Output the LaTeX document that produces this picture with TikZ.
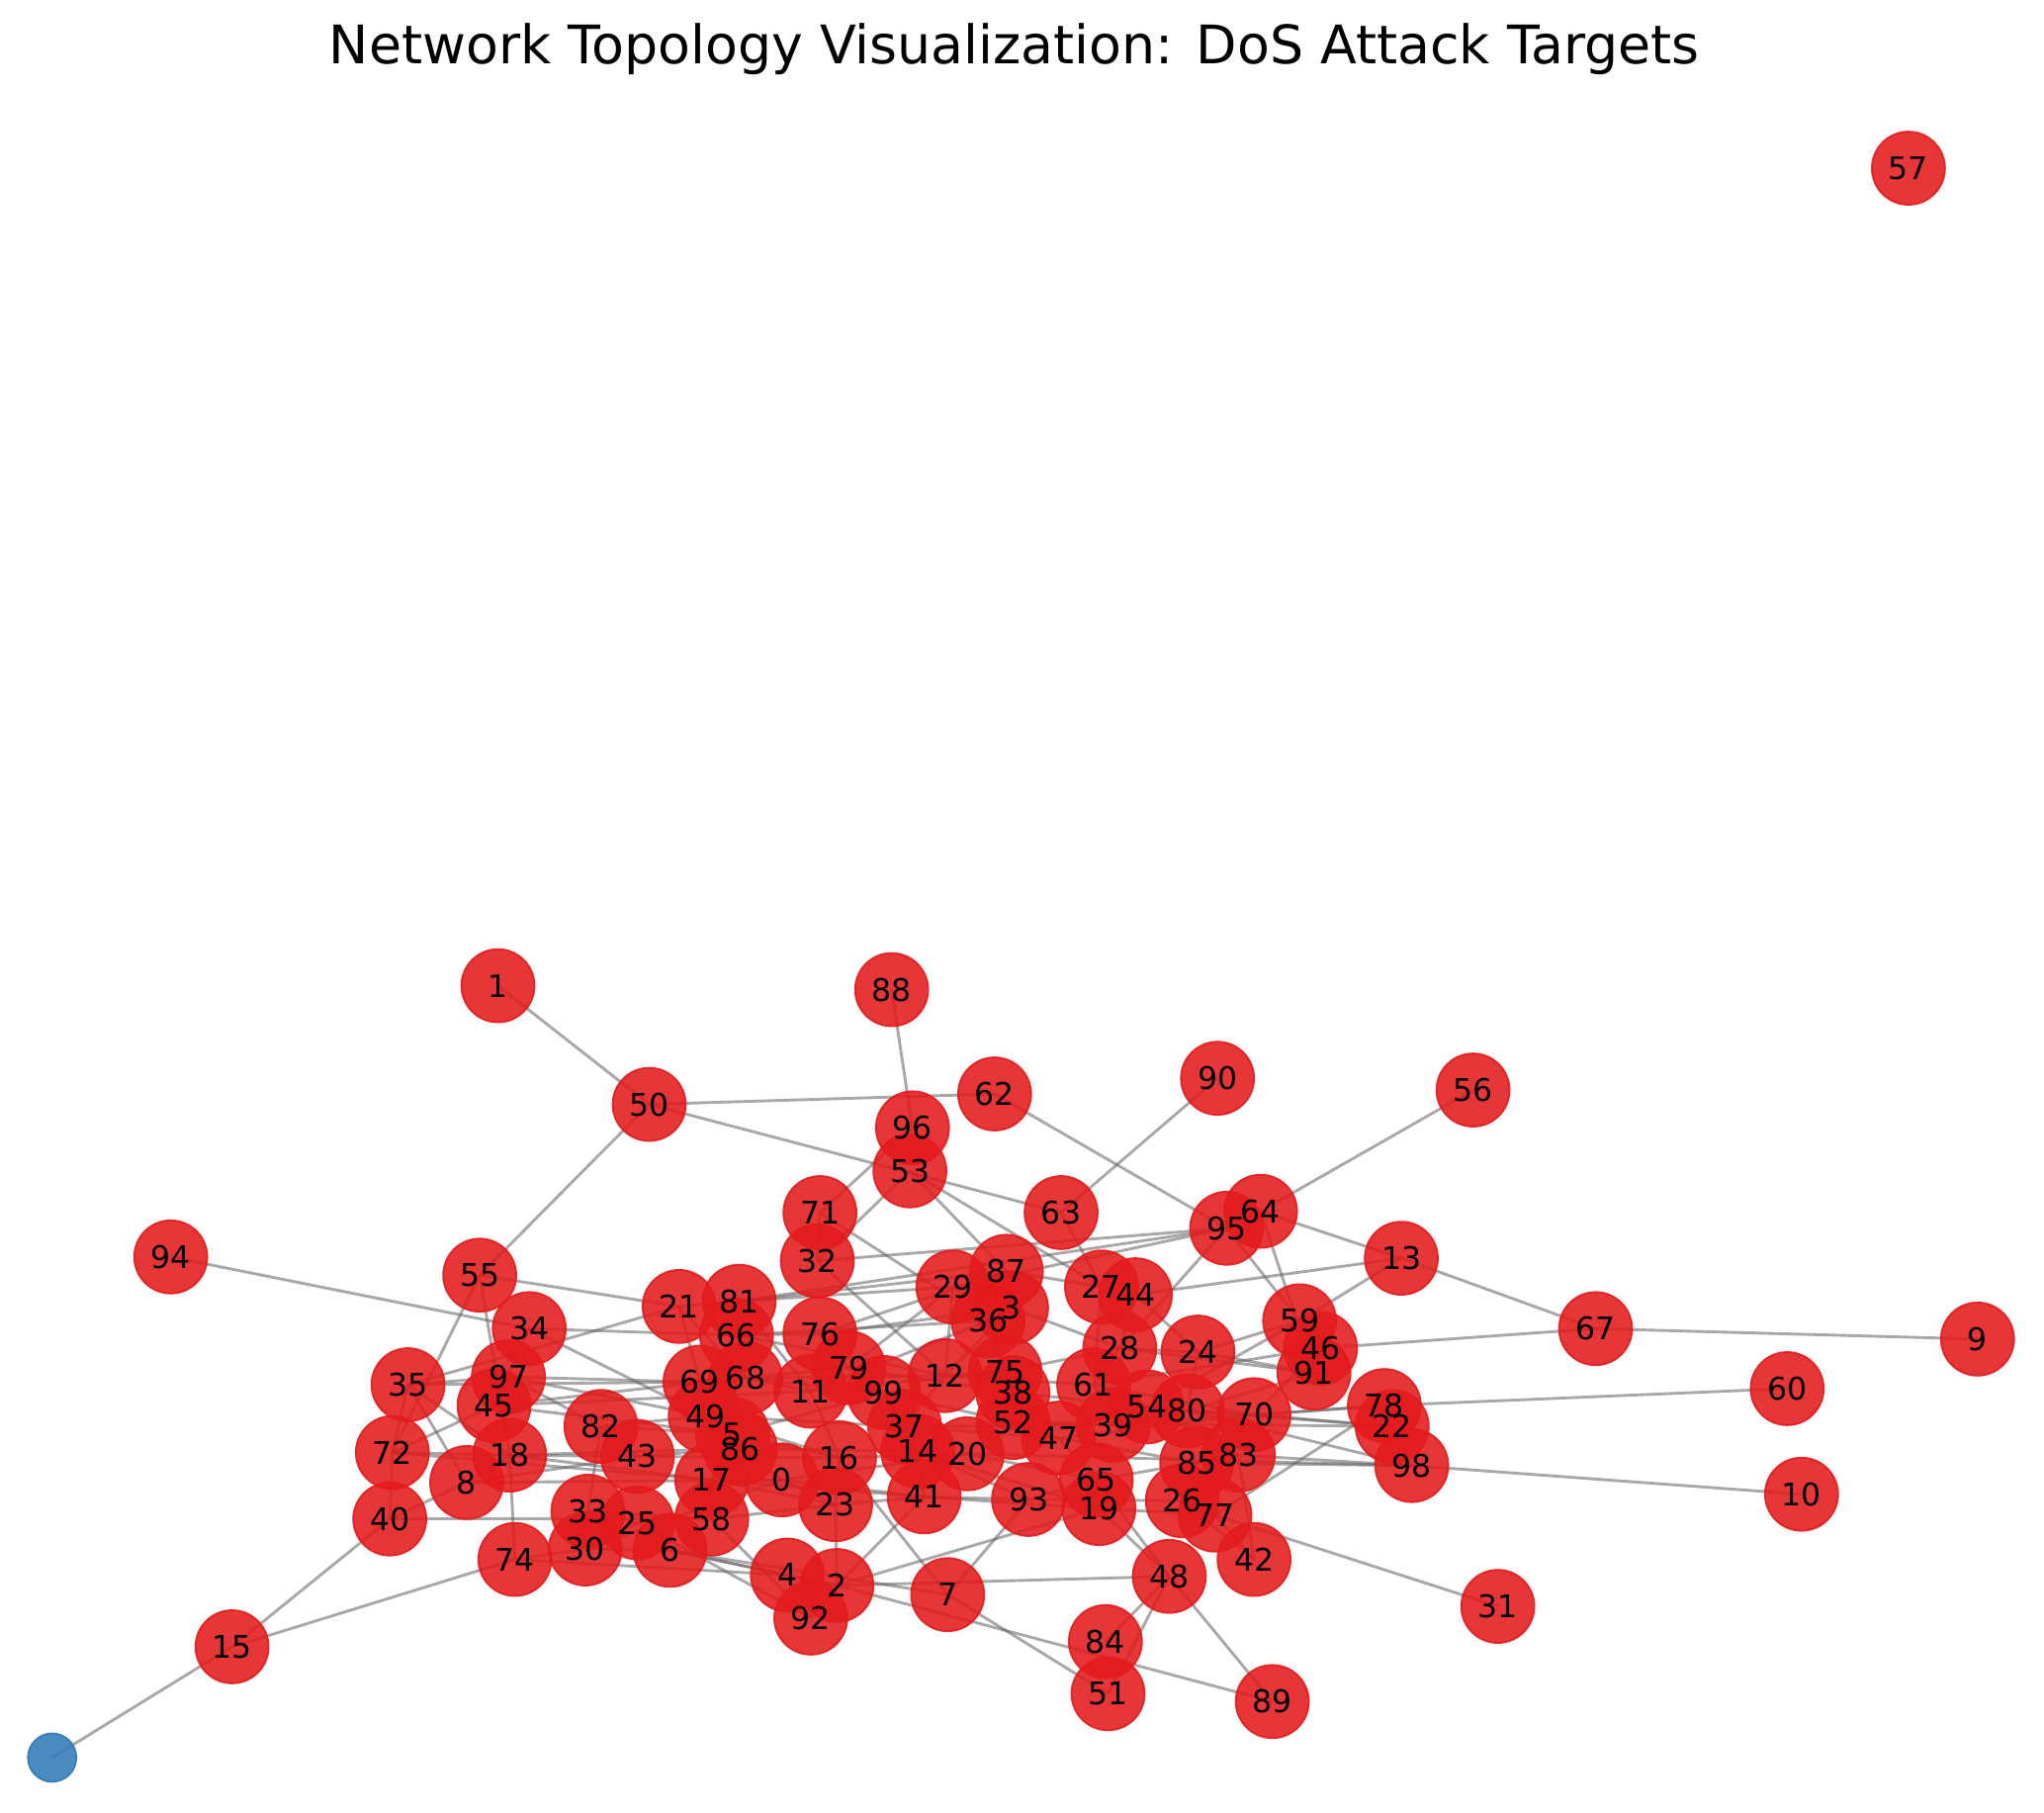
\documentclass[tikz,border=0pt]{standalone}
\usepackage{fontspec}
\setmainfont{DejaVu Sans}
\definecolor{nred}{RGB}{228,26,28}
\definecolor{nblue}{RGB}{55,126,184}
\pgfdeclarelayer{background}
\pgfdeclarelayer{foreground}
\pgfsetlayers{background,main,foreground}
\tikzset{
  rnode/.style={circle,fill=nred,draw=nred,fill opacity=0.88,draw opacity=0.9,line width=0.4pt,minimum size=0.56cm,inner sep=0pt},
  nlabel/.style={inner sep=0pt,font=\fontsize{6.8}{7}\selectfont},
  bnode/.style={circle,fill=nblue,draw=nblue,fill opacity=0.9,line width=0.4pt,minimum size=0.37cm,inner sep=0pt},
  link/.style={draw=black!62,draw opacity=0.55,line width=0.62pt},
  titlestyle/.style={font=\fontsize{11.6}{13}\selectfont,inner sep=0pt}
}
\begin{document}
\begin{tikzpicture}[x=0.01cm,y=-0.01cm]
\useasboundingbox (0,0) rectangle (1568,1390);
\node[titlestyle] (title) at (778,38) {Network Topology Visualization: DoS Attack Targets};
\node[bnode] (nb) at (40,1348) {};
\foreach \n/\x/\y in {57/1464/129,1/382/756,88/684/759,90/934/827,56/1130/836,62/763/839,50/498/847,
 96/700/865,53/698/898,63/814/930,71/629/930,64/967/929,95/941/942,94/131/964,13/1075/965,32/627/967,
 55/368/978,87/772/975,29/731/987,27/845/987,44/871/993,21/521/1002,81/567/998,3/776/1003,36/758/1013,
 59/997/1013,67/1224/1019,9/1517/1027,34/406/1019,66/565/1024,76/629/1023,28/859/1034,46/1013/1034,
 24/919/1037,91/1008/1053,12/725/1055,75/771/1052,79/651/1049,35/313/1062,97/390/1056,69/537/1060,
 68/572/1057,11/622/1067,99/678/1068,61/839/1062,60/1371/1065,38/777/1068,54/880/1079,80/911/1082,
 70/962/1085,78/1062/1078,45/379/1078,49/541/1086,5/562/1100,37/694/1094,52/777/1091,39/854/1093,
 22/1068/1094,47/812/1103,82/461/1094,72/301/1114,18/391/1116,43/489/1117,86/568/1111,16/644/1118,
 14/704/1113,20/742/1115,85/918/1122,83/950/1116,98/1083/1124,8/358/1137,17/546/1135,0/600/1135,
 65/841/1135,10/1382/1146,40/299/1165,33/451/1159,23/641/1154,41/709/1148,93/789/1150,19/843/1157,
 26/907/1151,77/932/1162,25/489/1168,58/546/1165,30/449/1188,6/514/1189,74/395/1196,42/962/1196,
 4/604/1208,2/642/1216,48/897/1209,7/727/1223,31/1149/1232,92/622/1241,84/848/1259,15/178/1263,
 51/850/1299,89/976/1305}
{
  \node[rnode] (n\n) at (\x,\y) {};
  \begin{pgfonlayer}{foreground}
    \node[nlabel] (t\n) at (n\n.center) {\n};
  \end{pgfonlayer}
}
\begin{pgfonlayer}{background}
\draw[link] (nb.center) -- (n15.center);
\foreach \a/\b in {15/40,15/74,1/50,50/55,50/62,50/63,88/96,62/95,90/63,56/64,96/71,53/32,53/87,53/27,
 94/34,64/13,13/67,67/9,67/46,13/59,13/44,60/78,10/98,31/77,51/7,51/48,84/48,2/89,89/48,2/48,7/93,2/19,
 16/7,78/77,42/77,55/21,55/72,55/18,35/21,35/97,35/69,34/66,34/49,35/8,35/18,72/45,72/40,40/58,
 71/36,32/12,81/29,81/87,66/36,76/87,76/3,11/36,79/29,12/3,95/28,95/81,95/32,95/29,95/59,64/91,59/24,
 28/24,59/54,46/70,91/80,70/78,70/22,80/22,85/98,83/98,80/98,24/91,27/61,44/24,63/27,87/27,3/28,36/75,
 29/12,97/69,45/69,97/49,45/5,45/11,18/43,18/86,18/17,72/18,72/17,8/43,8/0,40/8,33/82,33/58,30/6,30/0,
 74/30,74/18,74/4,6/4,6/2,25/92,6/7,58/92,58/23,82/5,82/49,43/86,43/16,34/45,97/82,21/69,21/68,81/11,
 66/76,69/79,68/99,49/37,5/16,86/14,17/41,0/41,0/20,17/23,86/0,49/16,5/99,68/12,66/12,11/75,79/38,
 99/52,37/47,14/93,20/65,16/20,23/41,41/93,41/19,14/19,37/39,12/61,75/28,38/54,52/39,47/85,93/26,
 65/83,19/77,65/48,39/80,61/70,54/83,47/70,20/98,52/22,39/78,28/91,61/46,26/42,85/26,83/42,19/48,
 4/2,4/92,2/92,23/2,41/2,5/17,17/58,25/33,30/25,86/17,16/23,14/41,37/14,99/37,11/16,79/99,76/79,
 12/75,75/38,38/52,52/47,47/65,65/19,61/39,39/54,54/80,80/70,85/83,26/77,93/65,37/12,36/3,87/3,
 29/36,27/44,44/28,28/61,24/80,59/46,46/91,78/22,22/98,32/71,81/66,21/81,66/68,68/69,69/49,49/5,
 5/86,11/68,0/17,0/23,43/82,18/8,72/35}
  \draw[link] (n\a.center) -- (n\b.center);
\end{pgfonlayer}
\end{tikzpicture}
\end{document}
